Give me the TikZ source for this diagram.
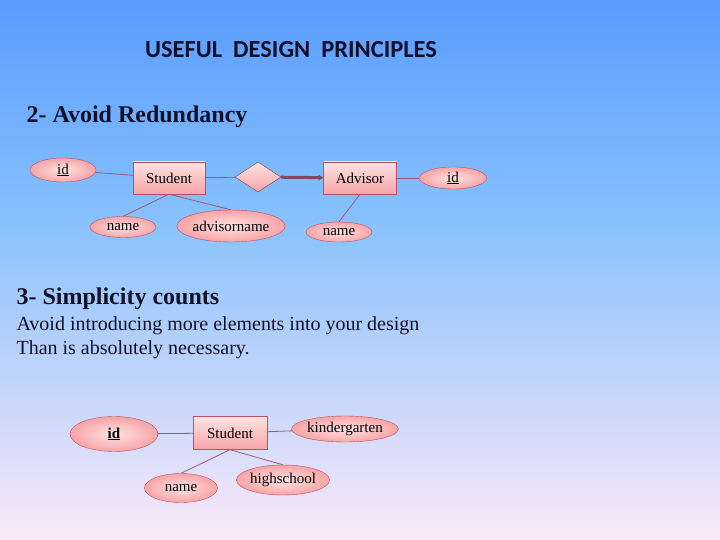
\documentclass[tikz,border=0pt]{standalone}
\usepackage{fontspec}
\setmainfont{Liberation Serif}
\newfontfamily\titlefont{Carlito}
\usepackage{xcolor}
\usepackage{tikz}
\usetikzlibrary{shapes.geometric,arrows.meta}

\definecolor{skytop}{HTML}{5A9BFF}
\definecolor{skymid}{HTML}{86C1FD}
\definecolor{skylow}{HTML}{FBE8F8}
\definecolor{pinklite}{HTML}{FFE2E2}
\definecolor{pinkdeep}{HTML}{F7A4A6}
\definecolor{eredge}{HTML}{B85068}
\definecolor{erline}{HTML}{A0587A}
\definecolor{inkblue}{HTML}{101028}

\begin{document}
\begin{tikzpicture}[x=1pt,y=-1pt,
    entity/.style={draw=eredge,rectangle,top color=pinklite,bottom color=pinkdeep,
      inner sep=0pt,font=\fontsize{15}{18}\selectfont},
    attr/.style={draw=eredge,ellipse,inner color=pinklite,outer color=pinkdeep,
      inner sep=0pt,font=\fontsize{15}{18}\selectfont},
    rel/.style={draw=eredge!70!black,diamond,aspect=1.5,top color=pinklite,bottom color=pinkdeep,
      inner sep=0pt},
    link/.style={draw=erline,line width=0.8pt}]
    \useasboundingbox (0,0) rectangle (720,540);
    \shade[top color=skytop,bottom color=skymid] (0,0) rectangle (720,216);
    \shade[top color=skymid,bottom color=skylow] (0,216) rectangle (720,540);

    % headings
    \node[text=inkblue] (title) at (291,50) {\titlefont\bfseries\fontsize{24.5}{28}\selectfont USEFUL\ \ DESIGN\ \ PRINCIPLES};
    \node[anchor=west,text=inkblue] (sec2) at (23,117) {\bfseries\fontsize{24}{28}\selectfont 2- Avoid Redundancy};
    \node[anchor=west,text=inkblue] (sec3) at (13,299) {\bfseries\fontsize{24}{28}\selectfont 3- Simplicity counts};
    \node[anchor=west,text=inkblue] (txt1) at (13,326) {\fontsize{20}{24}\selectfont Avoid introducing more elements into your design};
    \node[anchor=west,text=inkblue] (txt2) at (13,350) {\fontsize{20}{24}\selectfont Than is absolutely necessary.};

    % redundant design
    \node[attr,minimum width=66,minimum height=24] (sid) at (63,170) {\underline{id}};
    \node[entity,minimum width=72,minimum height=32] (stu) at (169,178) {Student};
    \node[rel,minimum width=46,minimum height=30] (adv) at (258,177) {};
    \node[entity,minimum width=73,minimum height=32] (advr) at (360,178) {Advisor};
    \node[attr,minimum width=67,minimum height=22] (aid) at (453,178) {\underline{id}};
    \node[attr,minimum width=66,minimum height=21] (sname) at (123,227) {name};
    \node[attr,minimum width=103,minimum height=32] (aname) at (231,226) {advisorname};
    \node[attr,minimum width=66,minimum height=20] (vname) at (339,232) {name};

    \draw[link] (sid) -- (stu);
    \draw[link] (stu) -- (adv);
    \draw[link,draw=erline!80!black,line width=3pt,-{Stealth[length=5pt,width=6pt]}] (adv) -- (advr);
    \draw[link] (advr) -- (aid);
    \draw[link] (stu.south) -- (sname.north);
    \draw[link] (stu.south) -- (aname.north);
    \draw[link] (advr.south) -- (vname.north);

    % simple design
    \node[attr,minimum width=88,minimum height=35] (bid) at (114,434) {\bfseries\underline{id}};
    \node[entity,minimum width=74,minimum height=33] (bstu) at (230,433) {Student};
    \node[attr,minimum width=104,minimum height=26] (kind) at (345,429) {kindergarten};
    \node[attr,minimum width=73,minimum height=29] (bname) at (181,488) {name};
    \node[attr,minimum width=81,minimum height=30] (high) at (283,480) {highschool};

    \draw[link] (bid) -- (bstu);
    \draw[link] (bstu) -- (kind);
    \draw[link] (bstu.south) -- (bname.north);
    \draw[link] (bstu.south) -- (high.north);
\end{tikzpicture}
\end{document}
